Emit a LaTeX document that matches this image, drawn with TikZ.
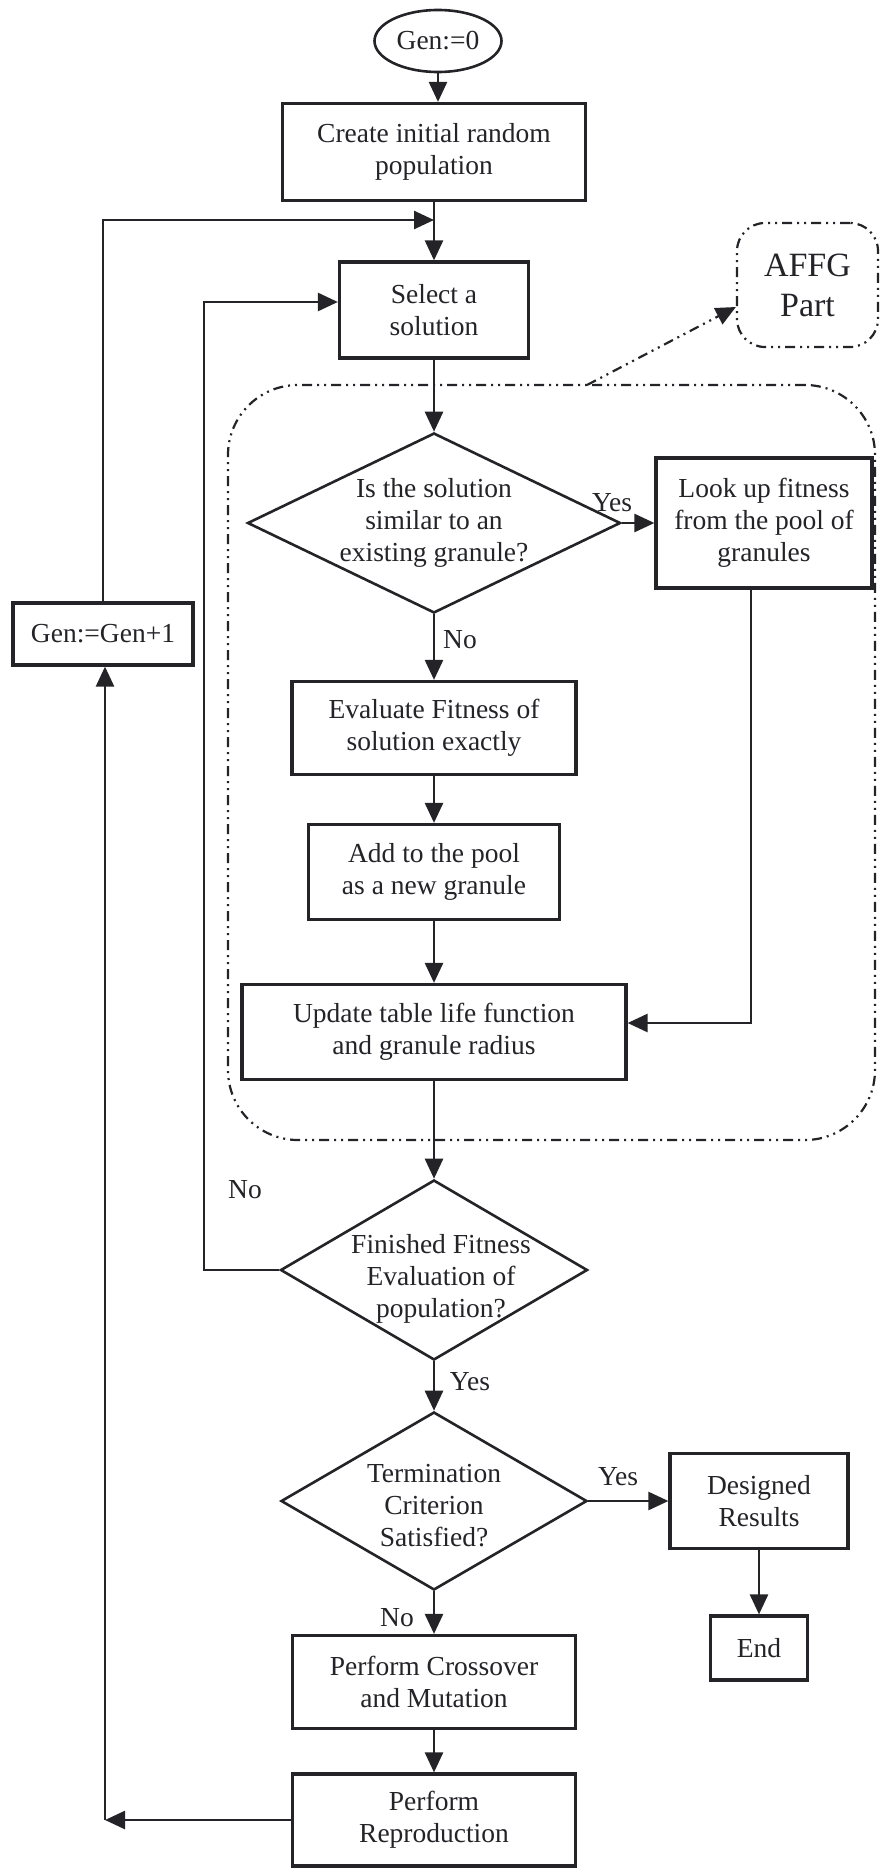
\documentclass[tikz,border=0pt]{standalone}
\usepackage{fontspec}
\setmainfont{Liberation Serif}
\usetikzlibrary{shapes.geometric,arrows.meta}
\definecolor{ink}{RGB}{35,35,40}
\newcommand{\mainfs}{\fontsize{27.5}{32}\selectfont}
\begin{document}
\begin{tikzpicture}[x=1pt,y=-1pt,
  box/.style={draw=ink, line width=3.2pt, fill=white, align=center, inner sep=0pt, font=\mainfs, text=ink},
  dia/.style={diamond, draw=ink, line width=2.6pt, fill=white, inner sep=0pt},
  lbl/.style={font=\mainfs, inner sep=0pt, text=ink, align=center},
  arr/.style={draw=ink, line width=2.6pt, -{Triangle[length=20pt,width=18pt]}},
  dd/.style={draw=ink, line width=2.2pt, dash pattern=on 10pt off 5pt on 2pt off 5pt on 2pt off 5pt}]
\useasboundingbox (0,0) rectangle (879,1868);

% AFFG region
\node[dd, rounded corners=70pt, minimum width=647pt, minimum height=755pt, inner sep=0pt] (region) at (551.5,762.5) {};
\node[dd, rounded corners=28pt, minimum width=141pt, minimum height=124pt, inner sep=0pt, align=center, text=ink, font=\fontsize{34}{40}\selectfont] (affg) at (807.5,285) {AFFG\\Part};

% nodes
\node[ellipse, draw=ink, line width=2.6pt, minimum width=127pt, minimum height=62pt, inner sep=0pt, font=\mainfs, text=ink] (start) at (438,41) {Gen:=0};
\node[box, minimum width=303pt, minimum height=97pt] (create) at (434,152) {Create initial random\\population};
\node[box, minimum width=189pt, minimum height=96pt] (select) at (434,310) {Select a\\solution};
\node[dia, minimum width=373pt, minimum height=180pt, label={[lbl]center:{Is the solution\\similar to an\\existing granule?}}] (d1) at (434,523) {};
\node[box, minimum width=216pt, minimum height=130pt] (lookup) at (764,523) {Look up fitness\\from the pool of\\granules};
\node[box, minimum width=180pt, minimum height=62pt] (gen1) at (103,634) {Gen:=Gen+1};
\node[box, minimum width=284pt, minimum height=93pt] (eval) at (434,728) {Evaluate Fitness of\\solution exactly};
\node[box, minimum width=251pt, minimum height=95pt] (add) at (434,872) {Add to the pool\\as a new granule};
\node[box, minimum width=384pt, minimum height=95pt] (update) at (434,1032) {Update table life function\\and granule radius};
\node[dia, minimum width=307pt, minimum height=180pt, label={[lbl, xshift=7pt, yshift=-9pt]center:{Finished Fitness\\Evaluation of\\population?}}] (d2) at (434,1270) {};
\node[dia, minimum width=306pt, minimum height=178pt, label={[lbl, yshift=-5pt]center:{Termination\\Criterion\\Satisfied?}}] (d3) at (434,1501) {};
\node[box, minimum width=178pt, minimum height=95pt] (designed) at (759,1501) {Designed\\Results};
\node[box, minimum width=97pt, minimum height=64pt] (end) at (759,1648) {End};
\node[box, minimum width=283pt, minimum height=93pt] (cross) at (434,1682) {Perform Crossover\\and Mutation};
\node[box, minimum width=283pt, minimum height=92pt] (repro) at (434,1820) {Perform\\Reproduction};

% labels
\node[lbl] (yes1) at (612,503) {Yes};
\node[lbl] (no1) at (460,640) {No};
\node[lbl] (no2) at (245,1190) {No};
\node[lbl] (yes2) at (470,1382) {Yes};
\node[lbl] (yes3) at (618,1477) {Yes};
\node[lbl] (no3) at (397,1618) {No};

% coordinates
\coordinate (j1) at (434,220);
\coordinate (c2) at (204,1270);
\coordinate (c4) at (105,1820);
\coordinate (rt) at (587,385);

% connectors
\draw[arr] (start.south) -- (start.south |- create.north);
\draw[arr] (create.south) -- (select.north);
\draw[arr] (gen1.north) |- (j1);
\draw[arr] (select.south) -- (d1.north);
\draw[arr] (d1.east) -- (lookup.west);
\draw[arr] (d1.south) -- (eval.north);
\draw[arr] (eval.south) -- (add.north);
\draw[arr] (add.south) -- (update.north);
\draw[arr] ([xshift=-13pt]lookup.south) |- ([yshift=9pt]update.east);
\draw[arr] (update.south) -- (d2.north);
\draw[arr] (d2.west) -- (c2) |- ([yshift=8pt]select.west);
\draw[arr] (d2.south) -- (d3.north);
\draw[arr] (d3.east) -- (designed.west);
\draw[arr] (designed.south) -- (end.north);
\draw[arr] (d3.south) -- (cross.north);
\draw[arr] (cross.south) -- (repro.north);
\draw[arr] (repro.west) -- (c4);
\draw[arr] (c4) -- (c4 |- gen1.south);
\draw[dd, -{Triangle[length=20pt,width=18pt]}] (rt) -- ([yshift=-22pt]affg.west);
\end{tikzpicture}
\end{document}
